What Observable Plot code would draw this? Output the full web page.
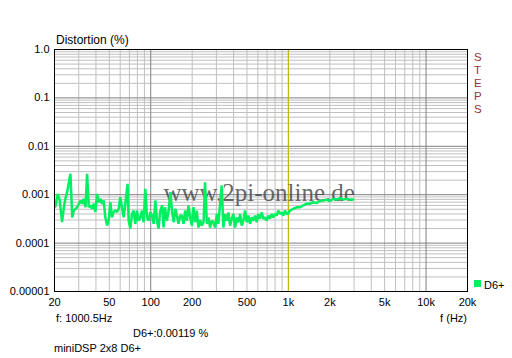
<!DOCTYPE html>
<html><head><meta charset="utf-8">
<script src="https://cdn.jsdelivr.net/npm/d3@7"></script>
<script src="https://cdn.jsdelivr.net/npm/@observablehq/plot@0.6"></script>
<style>html,body{margin:0;padding:0;background:#fff;} svg{display:block}</style>
</head><body><div id="chart"></div>
<script>
// ---- data (frequency in Hz, distortion in %) ----
const freqHz = [20.3,21.1,21.8,22.7,23.4,24.0,24.7,26.1,26.9,27.6,29.2,30.9,31.7,32.6,33.6,34.5,35.5,36.5,37.5,38.6,
39.6,40.8,41.9,43.1,44.3,45.5,46.8,48.2,49.5,50.9,52.3,53.8,55.3,56.9,58.5,60.1,61.8,63.6,65.4,67.9,
69.1,71.1,73.1,75.1,77.3,79.4,81.7,84.0,86.4,88.8,91.3,93.9,96.5,99.2,102,105,108,111,114,117,
121,124,127,131,135,139,143,147,151,155,159,164,
168,173,178,183,188,194,199,204,210,216,222,
229,235,242,248,256,263,270,278,285,294,302,310,319,328,337,347,357,367,377,388,
398,410,422,434,446,458,471,484,498,512,526,542,556,573,589,604,622,640,658,676,
695,715,735,757,777,799,822,844,869,893,918,944,971,998,1026,1084,1148,1213,1282,1356,
1432,1514,1603,1694,1788,1892,2000,2114,2238,2361,2496,2642,2792,2951];
const distD6 = [0.00057,0.00104,0.00078,0.00027,0.00055,0.00082,0.00113,0.0027,0.00034,0.00047,
0.00055,0.00076,0.00065,0.00082,0.00055,0.0027,0.00055,0.00060,0.00051,0.00065,
0.00044,0.00104,0.00070,0.00082,0.00065,0.00076,0.00034,0.00023,0.00029,0.00070,
0.00034,0.00044,0.00047,0.00044,0.00051,0.00089,0.00055,0.00034,0.00065,0.00168,
0.00029,0.00020,0.00040,0.00047,0.00025,0.00047,0.00029,0.00034,0.00047,0.00027,
0.00132,0.00034,0.00029,0.00044,0.00037,0.00025,0.00076,0.00029,0.00020,0.00044,
0.00060,0.00021,0.00055,0.00029,0.00047,0.00113,0.00044,0.00027,0.00051,0.00037,
0.00025,0.00037,
0.00037,0.00025,0.00047,0.00029,0.00060,0.00032,0.00023,0.00055,0.00027,0.00047,0.00021,
0.0003,0.00023,0.00027,0.00181,0.00025,0.00034,0.00021,0.00029,0.00027,0.00021,
0.00040,0.00025,0.00065,0.00155,0.00021,0.00040,0.00029,0.00043,0.00023,0.00032,
0.00040,0.00021,0.00034,0.00027,0.00040,0.00023,0.00029,0.00047,0.00027,0.00037,
0.00025,0.00034,0.00029,0.00037,0.00027,0.00040,0.00032,0.00043,0.00032,0.00034,
0.00029,0.00037,0.00032,0.00040,0.00034,0.00040,0.00037,0.00047,0.00040,0.00043,
0.00037,0.00047,0.00040,0.00041,0.00047,0.00051,0.00055,0.00055,0.00060,0.00065,
0.00065,0.00070,0.00067,0.00074,0.00076,0.00079,0.00074,0.00082,0.00079,0.00085,
0.00079,0.00082,0.00079,0.00080];

const xTicks = [20,50,100,200,500,1000,2000,5000,10000,20000];
const xTickLabels = ["20","50","100","200","500","1k","2k","5k","10k","20k"];
const yTicks = [1,0.1,0.01,0.001,0.0001,0.00001];
const yTickLabels = ["1.0","0.1","0.01","0.001","0.0001","0.00001"];
const xMajor = [100,1000,10000];
const xMinor = [30,40,50,60,70,80,90,200,300,400,500,600,700,800,900,2000,3000,4000,5000,6000,7000,8000,9000];
const yMajor = [0.1,0.01,0.001,0.0001];
const yMinorMult = [2,3,4,5,6,7,8,9];
const yDecades = [0.00001,0.0001,0.001,0.01,0.1];
const cursorHz = [1000.5];
const seriesName = "D6+";
const titleText = "Distortion (%)";
const xLabelText = "f (Hz)";
const cursorText = "f: 1000.5Hz";
const readoutText = "D6+:0.00119 %";
const deviceText = "miniDSP 2x8 D6+";
const stepsText = "STEPS";
const watermarkText = "www.2pi-online.de";

const data = freqHz.map((f,i)=>({f, d: distD6[i]}));
const yMinor = yDecades.flatMap(d => yMinorMult.map(m => +(d*m).toPrecision(3)));
const xTickData = xTicks.map((t,i)=>({t, label:xTickLabels[i]}));
const yTickData = yTicks.map((t,i)=>({t, label:yTickLabels[i]}));
const green = "#00f060";
const font = "'Liberation Sans', Arial, sans-serif";

const chart = Plot.plot({
  width:512, height:358,
  marginLeft:54, marginRight:45, marginTop:49, marginBottom:67,
  style:{fontFamily:font, fontSize:"11px", background:"#fff", color:"#000", overflow:"visible"},
  x:{type:"log", domain:[20,20000], axis:null},
  y:{type:"log", domain:[0.00001,1], axis:null},
  marks:[
    Plot.ruleX(xMinor,{stroke:"#c0c0c0", strokeOpacity:1}),
    Plot.ruleY(yMinor,{stroke:"#c0c0c0", strokeOpacity:1}),
    Plot.ruleX(xMajor,{stroke:"#808080", strokeOpacity:1}),
    Plot.ruleY(yMajor,{stroke:"#808080", strokeOpacity:1}),
    Plot.ruleX(cursorHz,{stroke:"#ccbb00", strokeOpacity:1}),
    Plot.text([watermarkText],{frameAnchor:"top-left", dx:109, dy:151, text:d=>d, fontFamily:"'Liberation Serif', 'Times New Roman', serif", fontSize:25, fill:"#404040", fillOpacity:0.8, textAnchor:"start", lineAnchor:"bottom"}),
    Plot.line(data,{x:"f", y:"d", stroke:green, strokeWidth:2.5, strokeLinejoin:"miter", strokeOpacity:1}),
    Plot.frame({stroke:"#000", strokeOpacity:1}),
    Plot.text(xTickData,{x:"t", frameAnchor:"bottom", text:"label", lineAnchor:"top", dy:7, fontSize:11, fill:"#000"}),
    Plot.text(yTickData,{y:"t", frameAnchor:"left", text:"label", textAnchor:"end", dx:-5, fontSize:11, fill:"#000"})
  ]
});
document.getElementById("chart").appendChild(chart);

const svg = d3.select(chart);
function addText(x,y,t,opts={}) {
  return svg.append("text").attr("x",x).attr("y",y).text(t)
    .attr("font-family",font).attr("font-size",opts.size||11)
    .attr("fill",opts.fill||"#000").attr("text-anchor",opts.anchor||"start");
}
addText(56,44,titleText,{size:12});
addText(467,322,xLabelText,{anchor:"end"});
addText(56,322,cursorText);
addText(133,337,readoutText);
addText(54,352,deviceText);
// STEPS vertical letters, evenly spaced
stepsText.split("").forEach((c,i)=>addText(474,61+i*13,c,{size:11.5,fill:"#993333"}));
// legend
svg.append("rect").attr("x",474).attr("y",280).attr("width",7).attr("height",7).attr("fill",green);
addText(484,289,seriesName);
</script>
</body></html>
